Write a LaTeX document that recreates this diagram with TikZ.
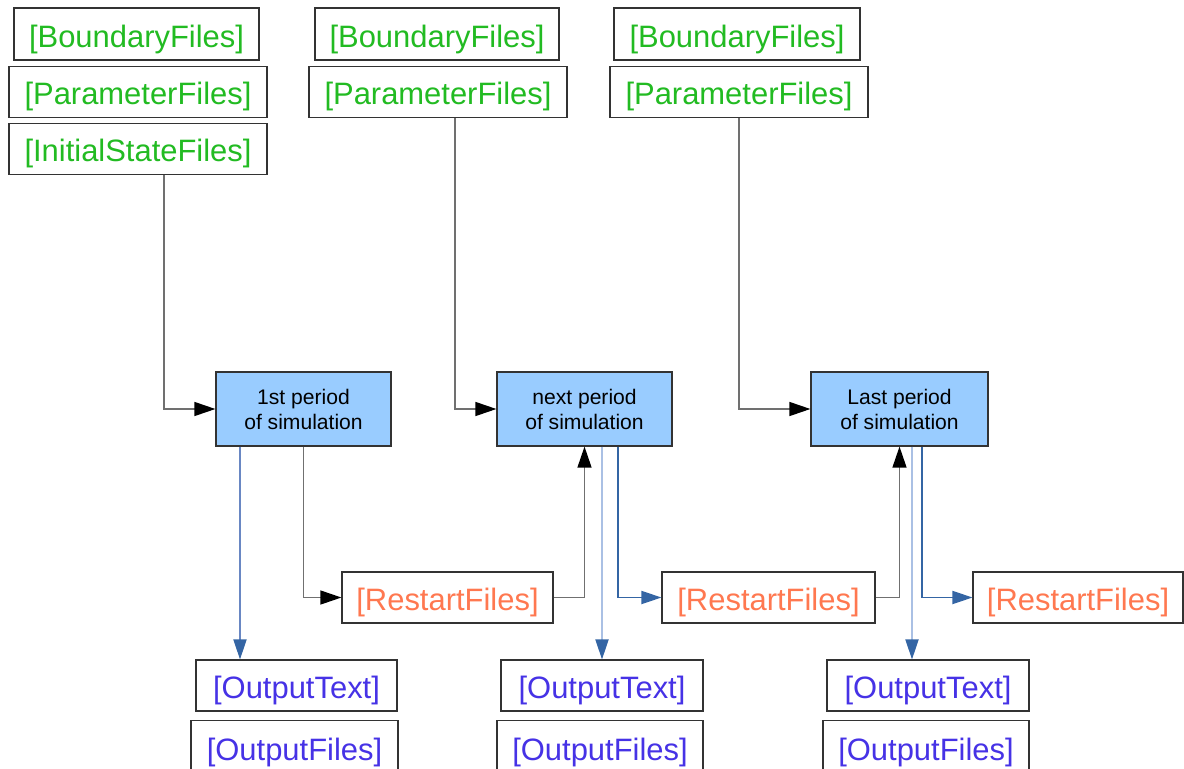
\documentclass[tikz,border=0pt]{standalone}
\usepackage{fontspec}
\setmainfont{Liberation Sans}
\usetikzlibrary{positioning}
\usetikzlibrary{arrows.meta}
\newdimen\unitpx \unitpx=0.025cm
\definecolor{boxline}{RGB}{51,51,51}
\definecolor{simfill}{RGB}{153,204,255}
\definecolor{filegreen}{RGB}{34,187,34}
\definecolor{restartorange}{RGB}{255,120,80}
\definecolor{outputblue}{RGB}{70,50,230}
\definecolor{feedgray}{RGB}{112,112,112}
\definecolor{linkblue}{RGB}{52,101,164}
\definecolor{paleblue}{RGB}{170,192,228}
\definecolor{midblue}{RGB}{105,135,195}
\tikzstyle{filebox} = [draw=boxline, line width=0.85pt, fill=white, inner sep=0pt, minimum height=51\unitpx, text height=28\unitpx, text depth=2\unitpx, font=\fontsize{22}{26}\selectfont]
\tikzstyle{simbox} = [draw=boxline, line width=0.85pt, fill=simfill, inner sep=0pt, align=center, minimum width=175\unitpx, minimum height=74\unitpx, font=\fontsize{15}{17.8}\selectfont]
\tikzstyle{feed} = [draw=feedgray, line width=0.9pt, -{Triangle[length=0.525cm,width=0.35cm,black]}]
\tikzstyle{restart} = [draw=linkblue, line width=0.9pt, -{Triangle[length=0.5cm,width=0.33cm,linkblue]}]
\tikzstyle{output} = [restart, draw=paleblue]

\begin{document}
\begin{tikzpicture}[x=0.025cm, y=-0.025cm]
                        \useasboundingbox (0,0) rectangle (1184,769);
                        \clip (0,0) rectangle (1184,769);

                        % input files of each period
                        \node[filebox, text=filegreen, minimum width=245\unitpx, minimum height=52\unitpx] (b1) at (136.5,34) {[BoundaryFiles]};
                        \node[filebox, text=filegreen, minimum width=258\unitpx, below=5\unitpx of b1, xshift=1.5\unitpx] (p1) {[ParameterFiles]};
                        \node[filebox, text=filegreen, minimum width=258\unitpx, below=5\unitpx of p1] (i1) {[InitialStateFiles]};
                        \node[filebox, text=filegreen, minimum width=244\unitpx, minimum height=52\unitpx] (b2) at (437,34) {[BoundaryFiles]};
                        \node[filebox, text=filegreen, minimum width=258\unitpx, below=5\unitpx of b2, xshift=1\unitpx] (p2) {[ParameterFiles]};
                        \node[filebox, text=filegreen, minimum width=246\unitpx, minimum height=52\unitpx] (b3) at (737,34) {[BoundaryFiles]};
                        \node[filebox, text=filegreen, minimum width=258\unitpx, below=5\unitpx of b3, xshift=2\unitpx] (p3) {[ParameterFiles]};

                        % simulation periods
                        \node[simbox] (s1) at (303.5,409) {1st period\\of simulation};
                        \node[simbox] (s2) at (584.5,409) {next period\\of simulation};
                        \node[simbox, minimum width=177\unitpx] (s3) at (899.5,409) {Last period\\of simulation};

                        % restart files
                        \node[filebox, text=restartorange, minimum width=211\unitpx] (r1) at (447.5,597.5) {[RestartFiles]};
                        \node[filebox, text=restartorange, minimum width=213\unitpx] (r2) at (768.5,597.5) {[RestartFiles]};
                        \node[filebox, text=restartorange, minimum width=210\unitpx] (r3) at (1078,597.5) {[RestartFiles]};

                        % output
                        \node[filebox, text=outputblue, minimum width=201\unitpx] (ot1) at (296.5,685.5) {[OutputText]};
                        \node[filebox, text=outputblue, minimum width=207\unitpx, minimum height=54\unitpx, below=8\unitpx of ot1, xshift=-2\unitpx] (of1) {[OutputFiles]};
                        \node[filebox, text=outputblue, minimum width=202\unitpx] (ot2) at (602,685.5) {[OutputText]};
                        \node[filebox, text=outputblue, minimum width=206\unitpx, minimum height=54\unitpx, below=8\unitpx of ot2, xshift=-2\unitpx] (of2) {[OutputFiles]};
                        \node[filebox, text=outputblue, minimum width=202\unitpx] (ot3) at (928,685.5) {[OutputText]};
                        \node[filebox, text=outputblue, minimum width=206\unitpx, minimum height=54\unitpx, below=8\unitpx of ot3, xshift=-2\unitpx] (of3) {[OutputFiles]};

                        % inputs into the periods
                        \draw[feed] ([xshift=26\unitpx]i1.south) |- (s1.west);
                        \draw[feed] ([xshift=17\unitpx]p2.south) |- (s2.west);
                        \draw[feed] (p3.south) |- (s3.west);

                        % restart chain
                        \draw[feed] (s1.south) |- (r1.west);
                        \draw[feed] (r1.east) -| (s2.south);
                        \draw[feed] (r2.east) -| (s3.south);
                        \coordinate (s2r) at ([xshift=33.5\unitpx]s2.south);
                        \draw[restart] (s2r) |- (r2.west);
                        \coordinate (s3r) at ([xshift=22.5\unitpx]s3.south);
                        \draw[restart] (s3r) |- (r3.west);

                        % output of the periods
                        \coordinate (s1o) at ([xshift=-63.5\unitpx]s1.south);
                        \draw[output, draw=midblue] (s1o) -- (s1o |- ot1.north);
                        \draw[output] (s2.south -| ot2.north) -- (ot2.north);
                        \coordinate (s3o) at ([xshift=12.5\unitpx]s3.south);
                        \draw[output] (s3o) -- (s3o |- ot3.north);
                    \end{tikzpicture}
\end{document}
